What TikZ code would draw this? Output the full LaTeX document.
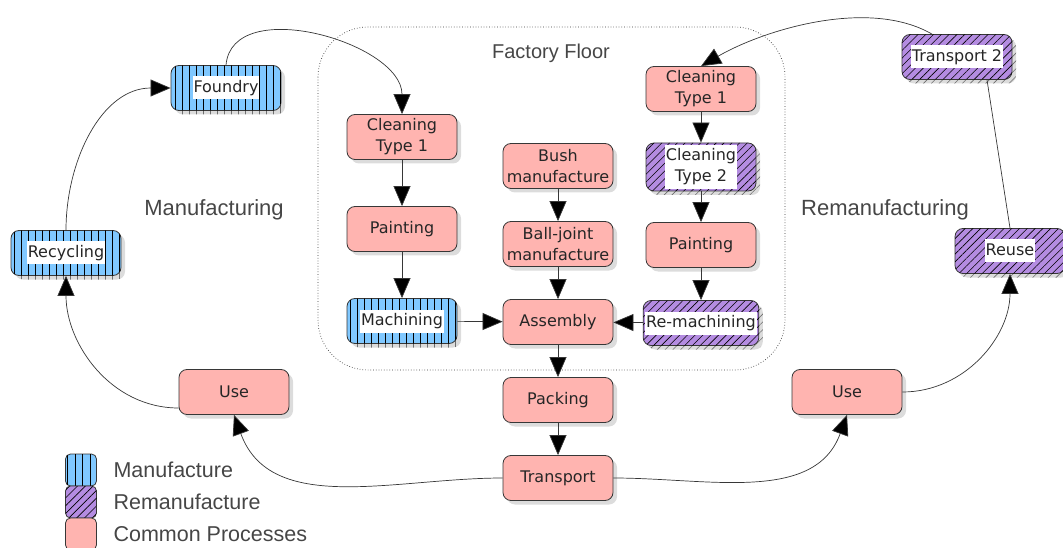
\documentclass[tikz,border=0pt]{standalone}
\usepackage{fontspec}
\setmainfont{DejaVu Sans}
\newfontfamily\labelfont{Liberation Sans}
\usetikzlibrary{arrows.meta,patterns.meta,shadows}

\definecolor{manublue}{RGB}{128,200,255}
\definecolor{remanpurple}{RGB}{180,140,225}
\definecolor{commonpink}{RGB}{255,180,176}
\definecolor{edgegray}{RGB}{55,55,55}
\definecolor{textgray}{RGB}{70,70,70}

% white patch behind text on hatched boxes
\newcommand{\wb}[1]{{\setlength{\fboxsep}{1pt}\colorbox{white}{\begin{tabular}{@{}c@{}}#1\end{tabular}}}}

\begin{document}
\begin{tikzpicture}[x=1pt, y=-1pt, node distance=78pt, >={Triangle[length=20pt,width=17pt,fill=black]},
  block/.style={rectangle, rounded corners=8pt, draw=edgegray, line width=0.8pt, minimum width=110pt, minimum height=45pt, align=center, inner sep=2pt, text=black!85, font=\fontsize{16}{21}\selectfont},
  common/.style={block, fill=commonpink, drop shadow={shadow xshift=4pt, shadow yshift=-4pt, fill=gray!55}},
  manu/.style={block, fill=manublue, postaction={pattern={Lines[angle=90,distance=7pt,line width=0.6pt]}},
    drop shadow={shadow xshift=4pt, shadow yshift=-4pt, fill=gray!55, postaction={pattern={Lines[angle=90,distance=7pt,line width=0.6pt]}}}},
  reman/.style={block, fill=remanpurple, postaction={pattern={Lines[angle=45,distance=5.5pt,line width=0.6pt]}},
    drop shadow={shadow xshift=4pt, shadow yshift=-4pt, fill=gray!55, postaction={pattern={Lines[angle=45,distance=5.5pt,line width=0.6pt]}}}},
  key/.style={rectangle, rounded corners=5pt, draw=edgegray, line width=0.8pt, minimum width=31pt, minimum height=32pt},
  conn/.style={->, draw=edgegray, line width=0.7pt},
  area/.style={text=textgray, font=\labelfont\fontsize{22}{24}\selectfont},
  keytext/.style={area, anchor=west, font=\labelfont\fontsize{21.5}{24}\selectfont}]

  \useasboundingbox (0,0) rectangle (1063,548);

  % factory floor
  \draw[dotted, rounded corners=50pt, edgegray, line width=0.7pt] (318,27) rectangle (785,370);
  \node[area, font=\labelfont\fontsize{20}{22}\selectfont] (floor) at (551,53) {Factory Floor};
  \node[area] (manlabel) at (214,210) {Manufacturing};
  \node[area] (remlabel) at (885,210) {Remanufacturing};

  % manufacture loop
  \node[manu] (foundry) at (226,88) {\wb{Foundry}};
  \node[manu] (recycling) at (66,253) {\wb{Recycling}};
  \node[common] (useL) at (234,392) {Use};

  % factory columns
  \node[common] (cleanL) at (402,137) {Cleaning\\Type 1};
  \node[common, below of=cleanL, node distance=92pt] (paintL) {Painting};
  \node[manu, below of=paintL, node distance=92pt] (machining) {\wb{Machining}};

  \node[common] (bush) at (558,166) {Bush\\manufacture};
  \node[common, below of=bush] (balljoint) {Ball-joint\\manufacture};
  \node[common, below of=balljoint] (assembly) {Assembly};
  \node[common, below of=assembly] (packing) {Packing};
  \node[common, below of=packing] (transport) {Transport};

  \node[common] (cleanR) at (701,89) {Cleaning\\Type 1};
  \node[reman, below of=cleanR] (cleanRb) {\wb{Cleaning\\Type 2}};
  \node[common, below of=cleanRb] (paintR) {Painting};
  \node[reman, below of=paintR] (remachining) {\wb{Re-machining}};

  % remanufacture loop
  \node[common] (useR) at (847,392) {Use};
  \node[reman] (reuse) at (1010,251) {\wb{Reuse}};
  \node[reman] (transportb) at (957,57) {\wb{Transport 2}};

  % legend
  \node[key, fill=manublue, postaction={pattern={Lines[angle=90,distance=7.5pt,line width=0.6pt]}}] (keymanu) at (81,470) {};
  \node[key, fill=remanpurple, postaction={pattern={Lines[angle=45,distance=5.5pt,line width=0.6pt]}}, below of=keymanu, node distance=32pt] (keyreman) {};
  \node[key, fill=commonpink, below of=keyreman, node distance=32pt] (keycommon) {};
  \node[keytext] at (110,470) {Manufacture};
  \node[keytext] at (110,502) {Remanufacture};
  \node[keytext] at (110,534) {Common Processes};

  % straight flows
  \draw[conn] (cleanL) -- (paintL);
  \draw[conn] (paintL) -- (machining);
  \draw[conn] (machining) -- (assembly);
  \draw[conn] (bush) -- (balljoint);
  \draw[conn] (balljoint) -- (assembly);
  \draw[conn] (cleanR) -- (cleanRb);
  \draw[conn] (cleanRb) -- (paintR);
  \draw[conn] (paintR) -- (remachining);
  \draw[conn] (remachining) -- (assembly);
  \draw[conn] (assembly) -- (packing);
  \draw[conn] (packing) -- (transport);

  % loops
  \draw[conn] (foundry.north) to[out=85,in=90] (cleanL.north);
  \draw[conn] (recycling.north) to[out=90,in=180] (foundry.west);
  \draw[conn] ([yshift=-16pt]useL.west) to[out=180,in=-90] (recycling.south);
  \draw[conn] (transport.west) to[out=180,in=-70] (useL.south);
  \draw[conn] (transport.east) to[out=0,in=-110] (useR.south);
  \draw[conn] (useR.east) to[out=0,in=-90] (reuse.south);
  \draw[edgegray, line width=0.7pt] (reuse.north) -- ([xshift=30pt]transportb.south);
  \draw[conn] ([xshift=-25pt]transportb.north) to[out=150,in=30,looseness=0.8] (cleanR.north);

\end{tikzpicture}
\end{document}
